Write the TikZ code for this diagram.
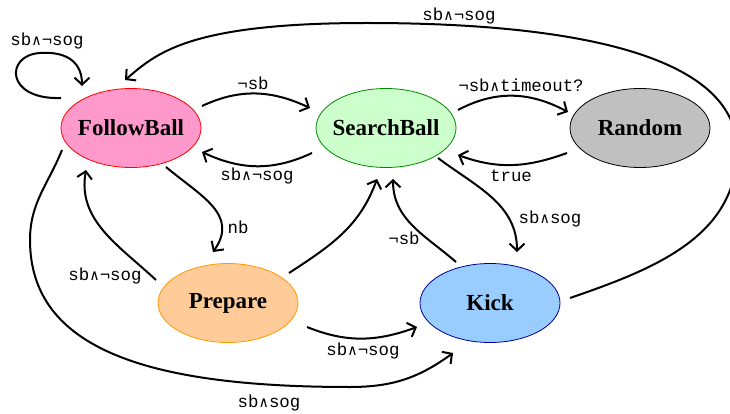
\documentclass[tikz,border=0pt]{standalone}
\usepackage{fontspec}
\setmainfont{Liberation Serif}
\setmonofont{Liberation Mono}
\newfontfamily\opfont{DejaVu Sans Mono}[Scale=0.85]
\usetikzlibrary{shapes.geometric,arrows.meta}

% logical "and" in a monospace cell
\newcommand\conj{\makebox[0.6em]{\opfont ∧}}

\definecolor{fbfill}{HTML}{FF99CC}
\definecolor{sbfill}{HTML}{CCFFCC}
\definecolor{sbline}{HTML}{008800}
\definecolor{rfill}{HTML}{C0C0C0}
\definecolor{pfill}{HTML}{FFCC99}
\definecolor{pline}{HTML}{FF9900}
\definecolor{kfill}{HTML}{99CCFF}
\definecolor{kline}{HTML}{000099}

\begin{document}
\begin{tikzpicture}[x=1pt,y=1pt,
  state/.style={ellipse, minimum width=140pt, minimum height=79pt,
    inner sep=0pt, outer sep=0pt, line width=0.8pt,
    font=\fontsize{23}{23}\selectfont\bfseries},
  edge/.style={line width=2pt, -{Straight Barb[length=7pt,width=15pt]}},
  cond/.style={inner sep=0pt, font=\fontsize{17.4}{17.4}\selectfont\ttfamily}]
\useasboundingbox (0,0) rectangle (730,-414);
\fill[white] (0,0) rectangle (730,-414);

% states
\node[state, fill=fbfill, draw=red]   (FB) at (131,-128) {\makebox[0pt]{FollowBall}};
\node[state, fill=sbfill, draw=sbline] (SB) at (386,-128) {\makebox[0pt]{SearchBall}};
\node[state, fill=rfill, draw=black]  (R)  at (640,-128) {\makebox[0pt]{Random}};
\node[state, fill=pfill, draw=pline]  (P)  at (228,-303) {\makebox[0pt]{Prepare}};
\node[state, fill=kfill, draw=kline]  (K)  at (490,-303) {\makebox[0pt]{Kick}};

% transitions
\draw[edge] ([shift={(-70,30)}]FB.center) .. controls (5,-100) and (5,-55) .. (40,-53)
  .. controls (70,-51) and (82,-65) .. ([shift={(-49,42)}]FB.center);
\draw[edge] ([shift={(71,22)}]FB.center) to[out=25,in=155] ([shift={(-76,20)}]SB.center);
\draw[edge] ([shift={(-74,-25)}]SB.center) to[out=205,in=-25] ([shift={(71,-24)}]FB.center);
\draw[edge] ([shift={(72,18)}]SB.center) to[out=28,in=152] ([shift={(-72,16)}]R.center);
\draw[edge] ([shift={(-73,-25)}]R.center) to[out=200,in=-20] ([shift={(72,-27)}]SB.center);
\draw[edge] ([shift={(35,-39)}]FB.center) to[out=-40,in=55,looseness=1.2] ([shift={(-15,51)}]P.center);
\draw[edge] ([shift={(-72,23)}]P.center) to[out=137,in=260] ([shift={(-45,-42)}]FB.center);
\draw[edge] ([shift={(61,30)}]P.center) to[out=33,in=250] ([shift={(-9,-51)}]SB.center);
\draw[edge] ([shift={(79,-24)}]P.center) to[out=-22,in=200] ([shift={(-73,-24)}]K.center);
\draw[edge] ([shift={(-69,-22)}]FB.center) to[out=248,in=90] (30,-240)
  .. controls (30,-350) and (150,-387) .. (350,-387)
  to[out=0,in=216] ([shift={(-37,-50)}]K.center);
\draw[edge] ([shift={(-34,41)}]K.center) to[out=139,in=270] ([shift={(7,-51)}]SB.center);
\draw[edge] ([shift={(52,-30)}]SB.center) to[out=-37,in=90] ([shift={(27,51)}]K.center);
\draw[edge] ([shift={(80,5)}]K.center) to[out=19,in=270] (737,-150)
  .. controls (737,-53) and (567,-23) .. (367,-23)
  .. controls (187,-23) and (156,-54) .. ([shift={(-6,48)}]FB.center);

% guards
\node[cond] (g1)  at (47,-41)   {sb\conj¬sog};
\node[cond] (g2)  at (459,-16)  {sb\conj¬sog};
\node[cond] (g3)  at (253,-83)  {¬sb};
\node[cond] (g4)  at (257,-176) {sb\conj¬sog};
\node[cond] (g5)  at (521,-85)  {¬sb\conj timeout?};
\node[cond] (g6)  at (511,-176) {true};
\node[cond] (g7)  at (238,-227) {nb};
\node[cond] (g8)  at (105,-276) {sb\conj¬sog};
\node[cond] (g9)  at (269,-403) {sb\conj sog};
\node[cond] (g10) at (363,-351) {sb\conj¬sog};
\node[cond] (g11) at (550,-219) {sb\conj sog};
\node[cond] (g12) at (404,-238) {¬sb};
\end{tikzpicture}
\end{document}
